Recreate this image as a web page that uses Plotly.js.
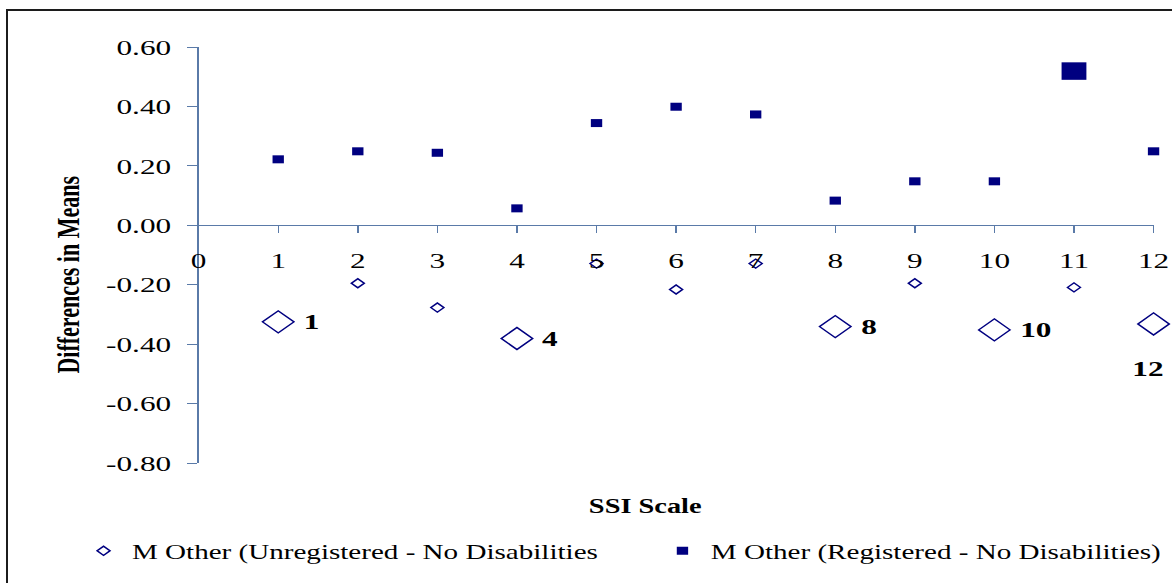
<!DOCTYPE html>
<html>
<head>
<meta charset="utf-8">
<script src="https://cdn.plot.ly/plotly-3.0.1.min.js"></script>
<style>
  html, body { margin: 0; padding: 0; background: #ffffff; overflow: hidden; width: 1172px; height: 583px; }
  #wrap { position: absolute; left: 0; top: 0; width: 826px; height: 583px; transform: scaleX(1.41889); transform-origin: 0 0; }
  #chart { width: 826px; height: 583px; }
  #frame { position: absolute; left: 6px; top: 9px; width: 1300px; height: 700px; border: 2px solid #1c1c1c; pointer-events: none; }
</style>
</head>
<body>
<div id="wrap"><div id="chart"></div></div>
<div id="frame"></div>
<script>
// ---- data ----
const ssiScale = [1, 2, 3, 4, 5, 6, 7, 8, 9, 10, 11, 12];
const unregisteredDiff = [-0.325, -0.195, -0.277, -0.381, -0.129, -0.216, -0.129, -0.341, -0.195, -0.352, -0.209, -0.332];
const registeredDiff = [0.222, 0.249, 0.244, 0.057, 0.344, 0.399, 0.373, 0.083, 0.148, 0.148, 0.519, 0.249];
const unregisteredHighlighted = [1, 4, 8, 10, 12];
const registeredHighlighted = [11];
const seriesNames = ['M Other (Unregistered - No Disabilities', 'M Other (Registered - No Disabilities)'];
const xTickVals = [0, 1, 2, 3, 4, 5, 6, 7, 8, 9, 10, 11, 12];
const xTickText = ['0', '1', '2', '3', '4', '5', '6', '7', '8', '9', '10', '11', '12'];
const yTickVals = [-0.8, -0.6, -0.4, -0.2, 0, 0.2, 0.4, 0.6];
const yTickText = ['-0.80', '-0.60', '-0.40', '-0.20', '0.00', '0.20', '0.40', '0.60'];
const xTitle = 'SSI Scale';
const yTitle = 'Differences in Means';

// ---- style ----
const NAVY = '#000080';
const AXIS = '#5a7aa8';
const SERIF = 'Liberation Serif, Times New Roman, Times, serif';

function split(xs, ys, hl) {
  const a = { x: [], y: [] }, b = { x: [], y: [] };
  xs.forEach((x, i) => {
    const t = hl.includes(x) ? b : a;
    t.x.push(x); t.y.push(ys[i]);
  });
  return [a, b];
}
const [unregNorm, unregHl] = split(ssiScale, unregisteredDiff, unregisteredHighlighted);
const [regNorm, regHl] = split(ssiScale, registeredDiff, registeredHighlighted);

const traces = [
  { type: 'scatter', mode: 'markers', name: seriesNames[0], x: unregNorm.x, y: unregNorm.y,
    cliponaxis: false, legendrank: 1,
    marker: { symbol: 'diamond-open', size: 7, color: NAVY, line: { color: NAVY, width: 1.3 } } },
  { type: 'scatter', mode: 'markers', name: seriesNames[0], x: unregHl.x, y: unregHl.y,
    cliponaxis: false, showlegend: false,
    marker: { symbol: 'diamond-open', size: 17, color: NAVY, line: { color: NAVY, width: 1.3 } } },
  { type: 'scatter', mode: 'markers', name: seriesNames[1], x: regNorm.x, y: regNorm.y,
    cliponaxis: false, legendrank: 2,
    marker: { symbol: 'square', size: 8, color: NAVY, line: { width: 0 } } },
  { type: 'scatter', mode: 'markers', name: seriesNames[1], x: regHl.x, y: regHl.y,
    cliponaxis: false, showlegend: false,
    marker: { symbol: 'square', size: 17.5, color: NAVY, line: { width: 0 } } }
];

// point labels for highlighted diamonds
const labelFont = { family: SERIF, size: 22, color: '#000000' };
const annotations = unregHl.x.map((x, i) => {
  const last = x === ssiScale[ssiScale.length - 1];
  return {
    x: x, y: unregHl.y[i], xref: 'x', yref: 'y', showarrow: false,
    text: '<b>' + String(x) + '</b>', font: labelFont,
    xanchor: last ? 'center' : 'left', yanchor: last ? 'top' : 'middle',
    xshift: last ? -4 : 16, yshift: last ? -30 : 0
  };
});
annotations.push({
  xref: 'paper', yref: 'paper', x: 0.4675, y: -0.1034, showarrow: false,
  xanchor: 'center', yanchor: 'middle', text: '<b>' + xTitle + '</b>',
  font: { family: SERIF, size: 20, color: '#000000' }
});
annotations.push({
  xref: 'paper', yref: 'paper', x: -0.1358, y: 0.452, showarrow: false,
  xanchor: 'center', yanchor: 'middle', textangle: -90, text: '<b>' + yTitle + '</b>',
  font: { family: SERIF, size: 22, color: '#000000' }
});

const layout = {
  width: 826, height: 583,
  paper_bgcolor: '#ffffff', plot_bgcolor: '#ffffff',
  margin: { l: 140, r: 13, t: 47, b: 120, autoexpand: false },
  font: { family: SERIF, size: 22, color: '#000000' },
  showlegend: true,
  legend: {
    orientation: 'h', x: -0.1293, xanchor: 'left', y: -0.2115, yanchor: 'middle',
    font: { family: SERIF, size: 20.5, color: '#000000' },
    entrywidth: 363, entrywidthmode: 'pixels', bgcolor: 'rgba(0,0,0,0)', traceorder: 'normal'
  },
  xaxis: {
    range: [0, 12], anchor: 'free', position: 0.8 / 1.4,
    tickmode: 'array', tickvals: xTickVals, ticktext: xTickText,
    showgrid: false, zeroline: false, showline: true, linecolor: AXIS, linewidth: 1,
    ticks: 'outside', ticklen: 7, tickcolor: AXIS, tickwidth: 1,
    ticklabelstandoff: 8,
    tickfont: { family: SERIF, size: 22, color: '#000000' }
  },
  yaxis: {
    range: [-0.8, 0.6],
    tickmode: 'array', tickvals: yTickVals, ticktext: yTickText,
    showgrid: false, zeroline: false, showline: true, linecolor: AXIS, linewidth: 1,
    ticks: 'outside', ticklen: 7, tickcolor: AXIS, tickwidth: 1,
    ticklabelstandoff: 7,
    tickfont: { family: SERIF, size: 22, color: '#000000' }
  },
  annotations: annotations
};

Plotly.newPlot('chart', traces, layout, { displayModeBar: false, staticPlot: true });
</script>
</body>
</html>
